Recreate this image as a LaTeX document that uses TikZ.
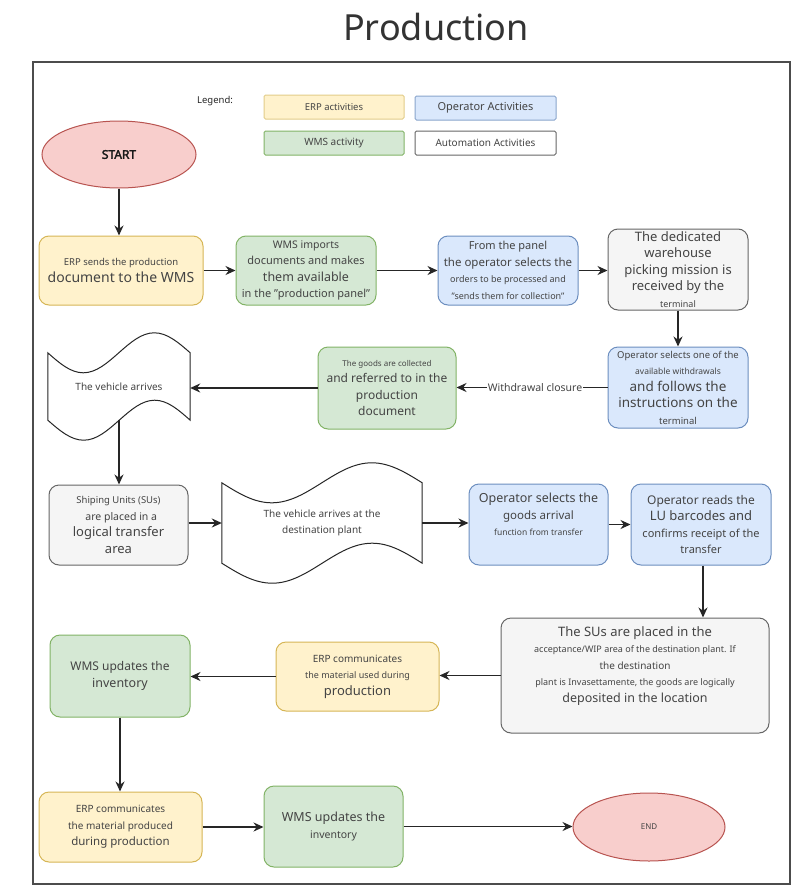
\documentclass[tikz,border=0pt]{standalone}
\usepackage{fontspec}
\setmainfont{Noto Sans}
\newfontfamily\startfont{Noto Sans}[FakeBold=2.5]
\usetikzlibrary{arrows.meta,shapes.geometric,calc}
\definecolor{erpfill}{HTML}{FFF2CC}\definecolor{erpdraw}{HTML}{D6B656}
\definecolor{wmsfill}{HTML}{D5E8D4}\definecolor{wmsdraw}{HTML}{82B366}
\definecolor{opfill}{HTML}{DAE8FC}\definecolor{opdraw}{HTML}{6C8EBF}
\definecolor{autofill}{HTML}{F5F5F5}\definecolor{autodraw}{HTML}{666666}
\definecolor{redfill}{HTML}{F8CECC}\definecolor{reddraw}{HTML}{B85450}
\definecolor{txt}{HTML}{444444}
\newcommand\fz[1]{\fontsize{#1}{\the\dimexpr#1pt*13/10\relax}\selectfont}
\tikzset{
  box/.style={rounded corners=10pt, line width=1pt, align=center, text=txt,
    inner sep=1pt, font=\fontsize{11}{16.5}\selectfont},
  erpbox/.style={box, fill=erpfill, draw=erpdraw},
  wmsbox/.style={box, fill=wmsfill, draw=wmsdraw},
  opbox/.style={box, fill=opfill, draw=opdraw},
  autobox/.style={box, fill=autofill, draw=autodraw},
  legbox/.style={rounded corners=1.5pt, line width=1pt, text=txt, minimum width=140pt, minimum height=24pt, inner sep=0pt},
  term/.style={ellipse, fill=redfill, draw=reddraw, line width=1pt, text=txt, inner sep=0pt},
  tapebox/.style={inner sep=0pt, align=center, text=txt, font=\fontsize{10}{16.5}\selectfont},
  tapeline/.style={draw=black!85, line width=1pt, fill=white},
  arr/.style={draw=black!85, line width=1.4pt, -{Stealth[length=10pt,width=9pt]}},
}
\begin{document}
\begin{tikzpicture}[x=1pt,y=-1pt]
\useasboundingbox (0,0) rectangle (800,889);
\fill[white] (0,0) rectangle (800,889);
% title
\node[text=black!80, font=\fontsize{36}{40}\selectfont] (title) at (436,27) {Production};
% frame
\node[draw=black!70, line width=1.5pt, minimum width=757pt, minimum height=822pt, inner sep=0pt] (frame) at (411.5,473) {};
% legend
\node[text=black!85, font=\fz{9.5}] (leg) at (215,101) {Legend:};
\node[legbox, fill=erpfill, draw=erpdraw!70, font=\fz{9.5}] (lerp) at (334,107) {ERP activities};
\node[legbox, fill=opfill, draw=opdraw!80, minimum width=141pt, font=\fz{11}] (lop) at (485.5,108) {Operator Activities};
\node[legbox, fill=wmsfill, draw=wmsdraw, font=\fz{10}] (lwms) at (334,143) {WMS activity};
\node[legbox, fill=white, draw=autodraw, minimum width=141pt, font=\fz{10}] (lauto) at (485.5,143) {Automation Activities};
% start
\node[term, minimum width=154pt, minimum height=67pt, font=\startfont\fz{12}, text=black!90] (start) at (119,154.5) {START};
% row 1
\node[erpbox, minimum width=164pt, minimum height=69pt] (erp1) at (121,270.5)
  {\fz{9.5}ERP sends the production\\\fz{14}document to the WMS};
\node[wmsbox, minimum width=140pt, minimum height=69pt] (wms1) at (306,270.5)
  {\fz{10.5}WMS imports\\\fz{11}documents and makes\\\fz{12.5}them available\\\fz{11}in the "production panel"};
\node[opbox, minimum width=140pt, minimum height=69pt] (op1) at (508,270.5)
  {\fz{11}From the panel\\\fz{11.5}the operator selects the\\\fz{9}orders to be processed and\\\fz{9}"sends them for collection"};
\node[autobox, minimum width=140pt, minimum height=81pt] (auto1) at (678,269.5)
  {\fz{13}The dedicated\\\fz{13}warehouse\\\fz{13}picking mission is\\\fz{13}received by the\\\fz{9}terminal};
% row 2
\node[opbox, minimum width=140pt, minimum height=81pt] (op2) at (678,387.5)
  {\fz{9.5}Operator selects one of the\\\fz{8.5}available withdrawals\\\fz{13.5}and follows the\\\fz{13.5}instructions on the\\\fz{9.5}terminal};
\node[wmsbox, minimum width=138pt, minimum height=82pt] (wms2) at (387,388)
  {\fz{8}The goods are collected\\\fz{12}and referred to in the\\\fz{12}production\\\fz{12}document};
\node[tapebox, minimum width=142pt, minimum height=67pt] (tape1) at (119,386.5) {};
\draw[tapeline] (tape1.north west) sin ([xshift=35.5pt,yshift=-20pt]tape1.north west)
  cos ([xshift=71pt]tape1.north west) sin ([xshift=106.5pt,yshift=20pt]tape1.north west)
  cos (tape1.north east) -- (tape1.south east)
  sin ([xshift=-35.5pt,yshift=20pt]tape1.south east) cos ([xshift=-71pt]tape1.south east)
  sin ([xshift=-106.5pt,yshift=-20pt]tape1.south east) cos (tape1.south west) -- cycle;
\node[tapebox] (tape1t) at (tape1.center) {The vehicle arrives};
% row 3
\node[autobox, minimum width=139pt, minimum height=80pt] (auto2) at (118.5,525)
  {\fz{9.5}Shiping Units (SUs)\\\fz{10.5}\ \ are placed in a\\\fz{13}logical transfer\\\fz{13}area};
\node[tapebox, minimum width=200pt, minimum height=80pt] (tape2) at (322,523) {};
\draw[tapeline] (tape2.north west) sin ([xshift=50pt,yshift=-20pt]tape2.north west)
  cos ([xshift=100pt]tape2.north west) sin ([xshift=150pt,yshift=20pt]tape2.north west)
  cos (tape2.north east) -- (tape2.south east)
  sin ([xshift=-50pt,yshift=20pt]tape2.south east) cos ([xshift=-100pt]tape2.south east)
  sin ([xshift=-150pt,yshift=-20pt]tape2.south east) cos (tape2.south west) -- cycle;
\node[tapebox] (tape2t) at (tape2.center) {The vehicle arrives at the\\destination plant};
\node[opbox, minimum width=139pt, minimum height=81pt] (op3) at (538.5,524.5)
  {\fz{12.5}Operator selects the\\\fz{11.5}goods arrival\\\fz{8.5}function from transfer\\[4pt]};
\node[opbox, minimum width=140pt, minimum height=81pt] (op4) at (701,524.5)
  {\fz{12}Operator reads the\\\fz{13}LU barcodes and\\\fz{11}confirms receipt of the\\\fz{11}transfer};
% row 4
\node[autobox, minimum width=268pt, minimum height=115pt] (auto3) at (635,675.5)
  {\fz{13}The SUs are placed in the\\\fz{9}acceptance/WIP area of the destination plant. If\\\fz{10}the destination\\\fz{9}plant is Invasettamente, the goods are logically\\\fz{12.5}deposited in the location\\[6pt]};
\node[erpbox, minimum width=163pt, minimum height=69pt] (erp2) at (357.5,676.5)
  {\fz{10}ERP communicates\\\fz{9}the material used during\\\fz{13}production};
\node[wmsbox, minimum width=140pt, minimum height=82pt] (wms3) at (120,676)
  {\fz{12}WMS updates the\\\fz{12.5}inventory};
% row 5
\node[erpbox, minimum width=163pt, minimum height=70pt] (erp3) at (120.5,827)
  {\fz{10}ERP communicates\\\fz{10}the material produced\\\fz{11.5}during production};
\node[wmsbox, minimum width=139pt, minimum height=81pt] (wms4) at (333.5,826.5)
  {\fz{12.5}WMS updates the\\\fz{10.5}inventory};
\node[term, minimum width=152pt, minimum height=68pt, font=\fz{8}] (end) at (649,827) {END};
% connectors
\draw[arr] (start.south) -- (start.south |- erp1.north);
\draw[arr] (erp1.east) -- (erp1.east -| wms1.west);
\draw[arr] (wms1.east) -- (wms1.east -| op1.west);
\draw[arr] (op1.east) -- (op1.east -| auto1.west);
\draw[arr] (auto1.south) -- (auto1.south |- op2.north);
\draw[arr] (op2.west) -- node[pos=0.48, fill=white, inner sep=1pt, text=txt, font=\fz{10.5}] (wlab) {Withdrawal closure} (op2.west -| wms2.east);
\draw[arr] (wms2.west) -- (wms2.west -| tape1.east);
\draw[arr] (tape1.south) -- (tape1.south |- auto2.north);
\draw[arr] (auto2.east |- tape2.west) -- (tape2.west);
\draw[arr] (tape2.east) -- (tape2.east -| op3.west);
\draw[arr] (op3.east) -- (op3.east -| op4.west);
\draw[arr] ([xshift=2pt]op4.south) -- ([xshift=2pt]op4.south |- auto3.north);
\draw[arr] (auto3.west) -- (auto3.west -| erp2.east);
\draw[arr] (erp2.west) -- (erp2.west -| wms3.east);
\draw[arr] (wms3.south) -- (wms3.south |- erp3.north);
\draw[arr] (erp3.east) -- (erp3.east -| wms4.west);
\draw[arr] (wms4.east) -- (wms4.east -| end.west);
\end{tikzpicture}
\end{document}
